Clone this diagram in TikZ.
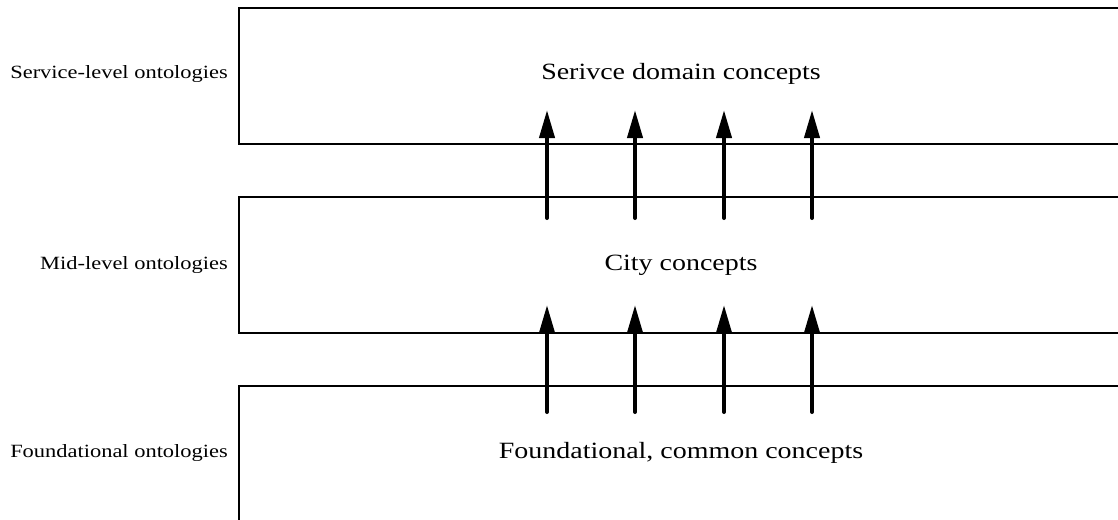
\documentclass[tikz,border=0pt]{standalone}
\usepackage{fontspec}
\setmainfont[FakeStretch=1.2]{Liberation Serif}
\usetikzlibrary{arrows.meta}
\tikzset{
  layerbox/.style={draw, line width=2pt, minimum width=900pt, minimum height=136pt, anchor=north west, inner sep=0pt},
  sidelabel/.style={anchor=east, font=\fontsize{18.7}{22}\selectfont, inner sep=0pt},
  conceptlabel/.style={font=\fontsize{23.3}{28}\selectfont, inner sep=0pt},
  uparrow/.style={line width=4pt, line cap=round, -{Triangle[length=28pt,width=15pt]}}
}
\begin{document}
\begin{tikzpicture}[x=1pt,y=-1pt]
\useasboundingbox (0,0) rectangle (1118,519);
\begin{scope}
\clip (0,0) rectangle (1118,519);
\node[layerbox] (svc) at (238,7) {};
\node[layerbox] (mid) at (238,196) {};
\node[layerbox] (fnd) at (238,385) {};
\end{scope}
\node[conceptlabel] (svct) at (681,74) {Serivce domain concepts};
\node[conceptlabel] (midt) at (681,265) {City concepts};
\node[conceptlabel] (fndt) at (681,453) {Foundational, common concepts};
\node[sidelabel] (svcl) at (228,74) {Service-level ontologies};
\node[sidelabel] (midl) at (228,265) {Mid-level ontologies};
\node[sidelabel] (fndl) at (228,453) {Foundational ontologies};
\foreach \i/\x in {1/547,2/635,3/724,4/812}{
  \coordinate (ua\i) at (\x,218);
  \coordinate (ub\i) at (\x,110);
  \coordinate (la\i) at (\x,412);
  \coordinate (lb\i) at (\x,305);
  \draw[uparrow] (ua\i) -- (ub\i);
  \draw[uparrow] (la\i) -- (lb\i);
}
\end{tikzpicture}
\end{document}
